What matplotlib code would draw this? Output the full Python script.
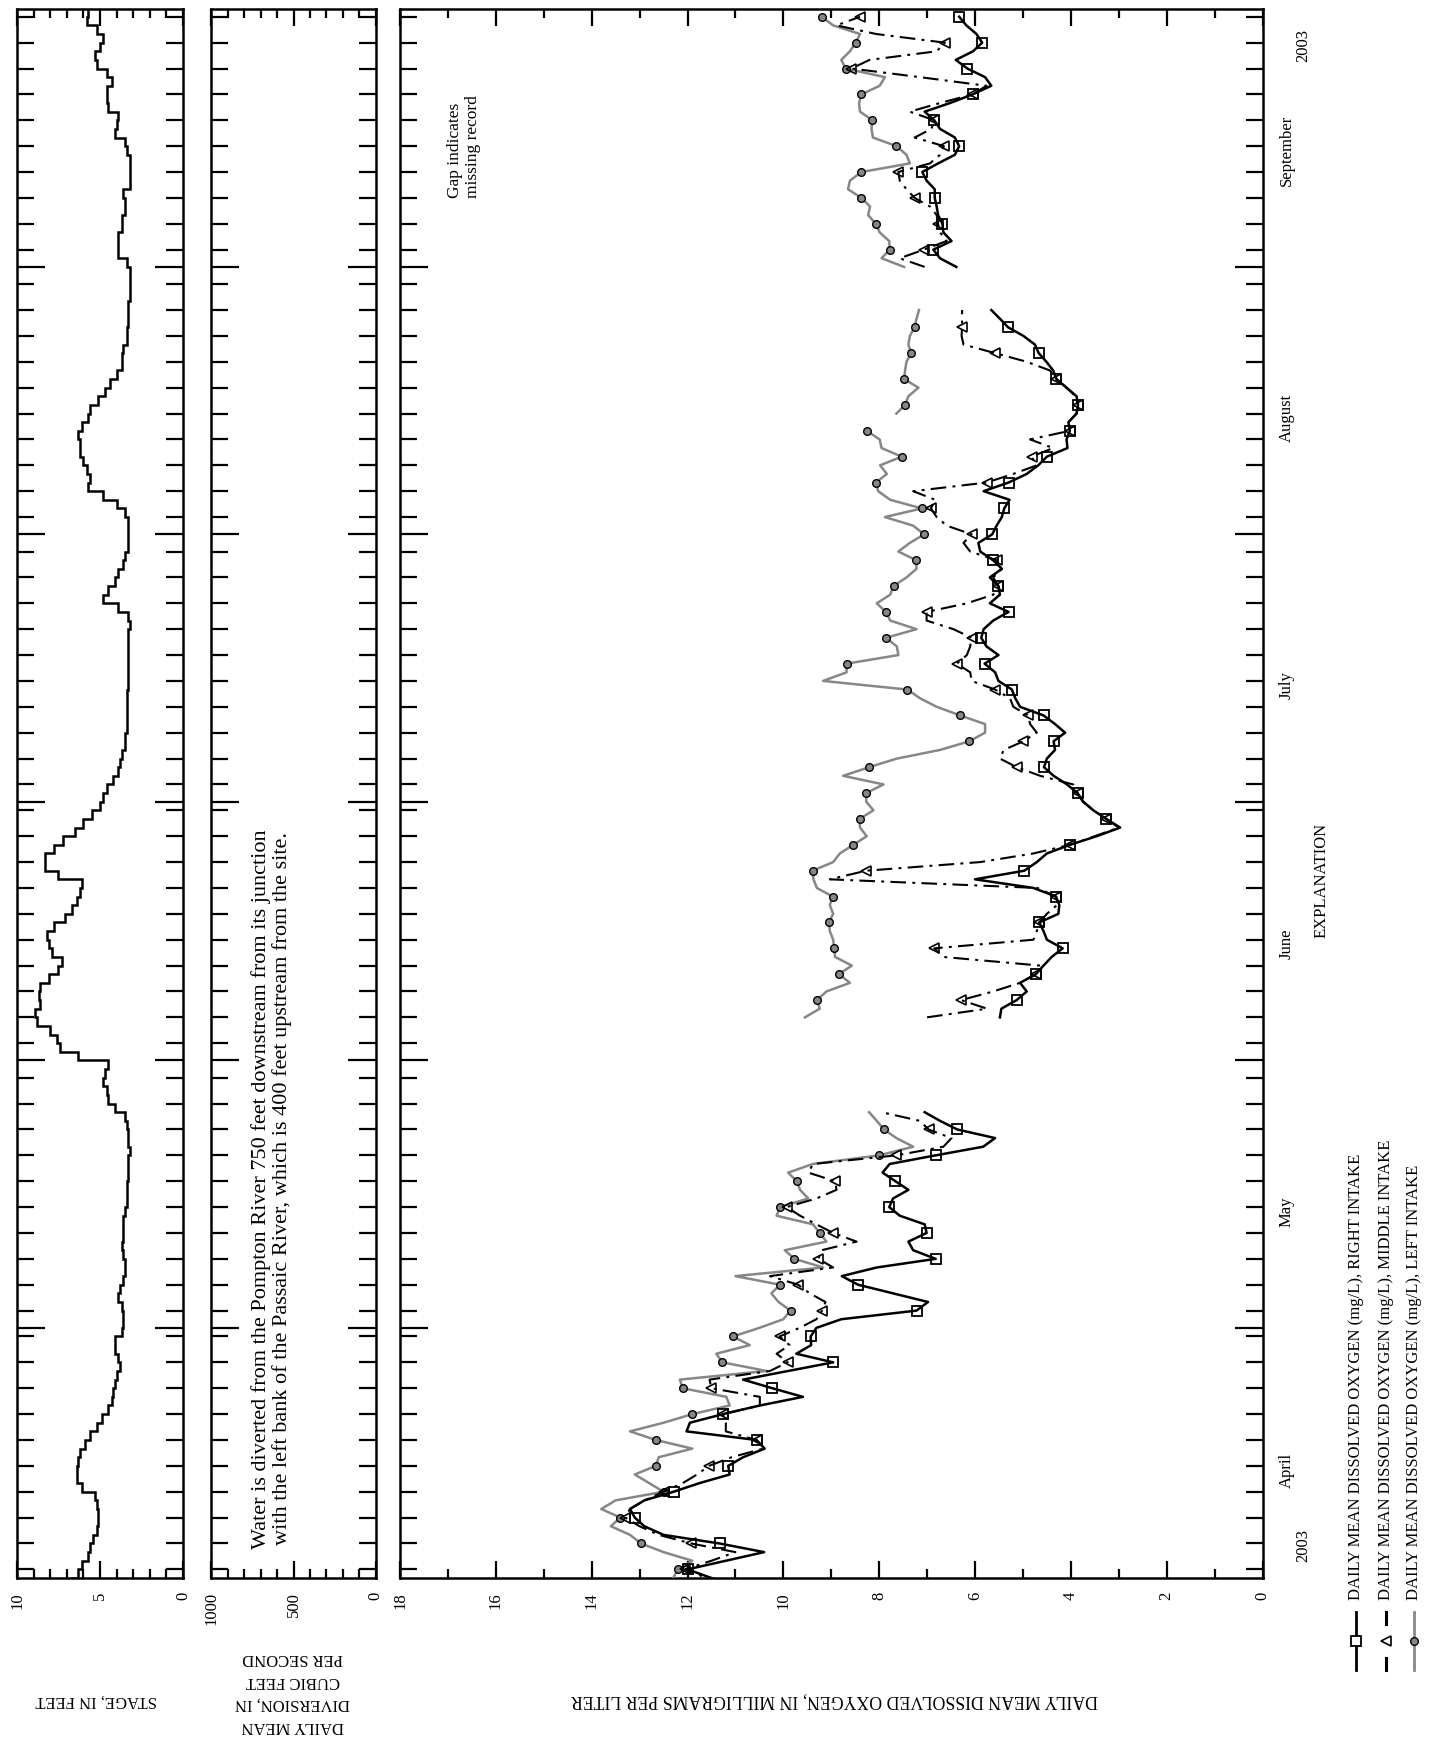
import numpy as np
import matplotlib
matplotlib.use("Agg")
import matplotlib.pyplot as plt
from matplotlib.lines import Line2D
from matplotlib.transforms import blended_transform_factory

plt.rcParams['font.family'] = ['Liberation Serif', 'DejaVu Serif']

nan = np.nan

# ---------------- data (day index = days since 2003-04-01) ----------------
stage_ft = [
    6.7, 6.3, 6.1, 5.7, 5.6, 5.4, 5.2, 5.1, 5.1, 5.2,
    5.3, 6.1, 6.4, 6.4, 6.3, 6.2, 5.9, 5.6, 5.2, 4.9,
    4.5, 4.3, 4.2, 4.1, 4.0, 3.8, 3.9, 4.1, 4.1, 3.7,
    3.6, 3.6, 3.7, 3.9, 3.8, 3.6, 3.5, 3.5, 3.6, 3.7,
    3.6, 3.6, 3.6, 3.5, 3.4, 3.4, 3.4, 3.3, 3.3, 3.3,
    3.2, 3.3, 3.3, 3.4, 3.5, 4.1, 4.5, 4.6, 4.8, 4.7,
    4.5, 6.3, 7.4, 7.6, 8.0, 8.8, 8.9, 8.6, 8.7, 8.6,
    8.1, 7.5, 7.3, 7.9, 8.1, 8.2, 7.8, 7.1, 6.7, 6.4,
    6.2, 6.1, 7.5, 8.3, 8.3, 7.8, 7.2, 6.5, 6.0, 5.5,
    5.0, 4.8, 4.6, 4.2, 3.9, 3.8, 3.7, 3.5, 3.5, 3.4,
    3.4, 3.4, 3.4, 3.4, 3.3, 3.3, 3.3, 3.3, 3.3, 3.3,
    3.3, 3.2, 3.3, 3.9, 4.8, 4.5, 4.1, 3.9, 3.6, 3.5,
    3.3, 3.3, 3.3, 3.3, 3.5, 4.0, 4.8, 5.7, 5.6, 5.8,
    6.0, 6.2, 6.2, 6.3, 6.1, 5.7, 5.6, 5.1, 4.7, 4.4,
    4.0, 3.7, 3.7, 3.6, 3.4, 3.4, 3.3, 3.3, 3.3, 3.2,
    3.2, 3.2, 3.2, 3.4, 3.9, 3.9, 3.9, 3.7, 3.7, 3.5,
    3.5, 3.6, 3.2, 3.2, 3.2, 3.2, 3.4, 3.5, 4.1, 4.0,
    3.9, 4.5, 4.6, 4.6, 4.3, 4.6, 5.2, 5.3, 5.0, 4.8,
    5.2, 5.8, 5.7,
]

# Dissolved oxygen, right intake (days 0-55, 66-148, 153-182)
do_right_apr_may = [
    11.0, 11.5, 12.0, 11.2, 10.4, 11.33, 12.5, 12.9, 13.1, 13.2,
    12.9, 12.29, 11.75, 11.12, 11.15, 10.84, 10.39, 10.56, 12.02, 11.95,
    11.26, 10.49, 9.59, 10.23, 10.84, 9.9, 8.96, 9.73, 9.42, 9.43,
    9.31, 8.79, 7.22, 6.98, 7.71, 8.44, 8.78, 8.05, 6.82, 7.29,
    7.39, 7.01, 7.05, 7.57, 7.79, 7.71, 7.39, 7.66, 7.93, 7.78,
    6.82, 5.83, 5.58, 6.37, 6.73, 7.05]
do_right_jun_aug = [
    5.48, 5.45, 5.13, 4.92, 5.06, 4.73, 4.57, 4.4, 4.17, 4.5,
    4.57, 4.66, 4.26, 4.24, 4.31, 4.78, 6.0, 4.97, 4.71, 4.5,
    4.02, 3.46, 2.97, 3.26, 3.53, 3.74, 3.86, 4.08, 4.36, 4.56,
    4.5, 4.33, 4.36, 4.12, 4.33, 4.57, 5.06, 5.16, 5.23, 5.51,
    5.58, 5.8, 5.51, 5.76, 5.87, 5.82, 5.62, 5.3, 5.69, 5.48,
    5.51, 5.69, 5.44, 5.62, 5.89, 5.93, 5.64, 5.55, 5.44, 5.39,
    5.28, 5.82, 5.3, 4.92, 4.68, 4.5, 4.07, 4.09, 4.02, 4.05,
    3.88, 3.85, 3.88, 4.09, 4.3, 4.37, 4.51, 4.67, 4.75, 4.99,
    5.31, 5.48, 5.66]
do_right_sep = [
    6.39, 6.73, 6.87, 6.49, 6.66, 6.68, 6.77, 6.8, 6.84, 6.84,
    7.01, 7.1, 6.77, 6.42, 6.33, 6.42, 6.73, 6.85, 7.05, 6.52,
    6.05, 5.66, 5.79, 6.16, 6.4, 6.04, 5.85, 5.97, 6.18, 6.33]

# Dissolved oxygen, middle intake
do_middle_apr_may = [
    11.3, 11.6, 12.06, 11.5, 11.0, 11.92, 12.6, 13.0, 13.3, 13.2,
    12.9, 12.5, 12.1, 11.8, 11.55, 11.08, 10.42, 10.56, 11.2, 11.2,
    11.26, 10.49, 10.49, 11.5, 11.54, 10.28, 9.91, 10.14, 9.87, 10.08,
    9.66, 9.31, 9.19, 9.12, 9.45, 9.69, 10.28, 8.96, 9.27, 9.2,
    8.47, 8.96, 9.31, 9.65, 9.93, 9.31, 8.89, 8.92, 9.48, 9.38,
    7.64, 6.66, 6.49, 6.97, 7.15, 7.95]
do_middle_jun_aug = [
    7.0, 5.75, 6.29, 5.62, 5.06, 4.73, 4.64, 6.66, 6.85, 4.78,
    4.71, 4.66, 4.5, 4.29, 4.31, 4.7, 9.03, 8.27, 5.89, 4.78,
    4.02, 3.5, 3.0, 3.26, 3.53, 3.75, 3.86, 3.95, 4.64, 5.13,
    5.48, 5.4, 4.99, 4.71, 4.85, 4.89, 5.2, 5.27, 5.58, 6.07,
    6.1, 6.38, 6.17, 6.1, 6.07, 6.45, 7.01, 7.01, 6.17, 5.62,
    5.51, 5.62, 5.44, 5.55, 6.1, 6.24, 6.07, 6.59, 6.8, 6.92,
    6.83, 7.29, 5.76, 5.2, 4.71, 4.82, 4.37, 4.85, 4.02, 4.05,
    3.88, 3.85, 3.9, 4.09, 4.3, 4.44, 4.92, 5.58, 6.24, 6.28,
    6.27, 6.27, 6.27]
do_middle_sep = [
    7.05, 7.57, 7.07, 6.59, 6.73, 6.77, 6.8, 6.94, 7.26, 7.43,
    7.57, 7.6, 6.94, 6.73, 6.65, 7.26, 6.91, 6.85, 7.36, 6.73,
    6.05, 5.76, 7.15, 8.58, 8.2, 6.8, 6.63, 8.06, 8.89, 8.4]

# Dissolved oxygen, left intake
do_left_apr_may = [
    12.3, 12.3, 12.2, 11.9, 12.5, 12.97, 13.2, 13.6, 13.4, 13.8,
    13.5, 12.5, 12.8, 13.1, 12.66, 12.6, 11.9, 12.66, 13.2, 12.5,
    11.9, 11.12, 11.19, 12.1, 12.16, 10.35, 11.27, 11.4, 10.7, 11.05,
    10.5, 10.0, 9.85, 10.1, 10.25, 10.07, 11.0, 9.17, 9.77, 9.97,
    9.1, 9.24, 9.38, 10.14, 10.07, 9.48, 9.65, 9.72, 9.9, 9.38,
    8.0, 7.29, 7.64, 7.9, 8.05, 8.21]
do_left_jun_aug = [
    9.55, 9.24, 9.3, 9.1, 8.61, 8.84, 8.57, 8.92, 8.94, 8.96,
    9.03, 9.05, 8.96, 9.03, 8.97, 9.3, 9.37, 9.39, 8.96, 8.82,
    8.54, 8.26, 8.4, 8.41, 8.12, 8.27, 8.27, 7.91, 8.75, 8.21,
    7.63, 6.73, 6.12, 5.79, 5.79, 6.31, 6.8, 7.15, 7.41, 9.17,
    8.68, 8.68, 7.6, 7.63, 7.86, 7.22, 7.77, 7.86, 8.05, 7.77,
    7.7, 7.43, 7.22, 7.23, 7.6, 7.36, 7.06, 7.29, 7.88, 7.11,
    7.77, 8.02, 8.07, 7.84, 7.98, 7.53, 7.95, 7.99, 8.26, nan,
    7.64, 7.46, 7.39, 7.18, 7.48, 7.46, 7.43, 7.33, 7.39, 7.36,
    7.26, 7.22, 7.17]
do_left_sep = [
    7.48, 7.95, 7.78, 7.79, 7.99, 8.07, 8.23, 8.19, 8.37, 8.65,
    8.61, 8.37, 7.36, 7.43, 7.64, 8.13, 8.16, 8.14, 8.4, 8.42,
    8.37, 7.99, 7.88, 8.7, 8.79, 8.61, 8.49, 8.4, 8.96, 9.2]

gap_late_may = [nan] * 10      # days 56-65 missing
gap_late_aug = [nan] * 4       # days 149-152 missing

month_names = ['April', 'May', 'June', 'July', 'August', 'September']
month_start = [0, 30, 61, 91, 122, 153]
month_len = [30, 31, 30, 31, 31, 30]
year_text = '2003'

legend_labels = ['DAILY MEAN DISSOLVED OXYGEN (mg/L), RIGHT INTAKE',
                 'DAILY MEAN DISSOLVED OXYGEN (mg/L), MIDDLE INTAKE',
                 'DAILY MEAN DISSOLVED OXYGEN (mg/L), LEFT INTAKE']

do_right = np.array(do_right_apr_may + gap_late_may + do_right_jun_aug + gap_late_aug + do_right_sep)
do_middle = np.array(do_middle_apr_may + gap_late_may + do_middle_jun_aug + gap_late_aug + do_middle_sep)
do_left = np.array(do_left_apr_may + gap_late_may + do_left_jun_aug + gap_late_aug + do_left_sep)
days = np.arange(len(do_right))

# ---------------- figure ----------------
W, H = 1437, 1742
fig = plt.figure(figsize=(W / 100, H / 100), dpi=100)
fig.patch.set_facecolor('white')


def fax(x0, x1, y0, y1):
    return fig.add_axes([x0 / W, 1 - y1 / H, (x1 - x0) / W, (y1 - y0) / H])


TOP, BOT = 9, 1578
ax1 = fax(17, 183, TOP, BOT)
ax2 = fax(211.5, 375.5, TOP, BOT)
ax3 = fax(400, 1262.5, TOP, BOT)

GRAY = '#878787'
FS = 12
MID_DASH = (0, (7.5, 3.0, 1.4, 3.0))

# stage step line
ax1.stairs(stage_ft, np.arange(len(stage_ft) + 1), orientation='horizontal',
           baseline=None, color='black', lw=1.8)

# dissolved oxygen
mk = slice(2, None, 3)
ax3.plot(do_left, days, color=GRAY, lw=1.8, marker='o', ms=5.5, mfc=GRAY,
         mec='black', mew=1.0, markevery=mk, zorder=3)
ax3.plot(do_middle, days, color='black', lw=1.5, ls=MID_DASH,
         marker='<', ms=7.5, mfc='none', mec='black', mew=1.2, markevery=mk, zorder=4)
ax3.plot(do_right, days, color='black', lw=1.8, marker='s', ms=7, mfc='none',
         mec='black', mew=1.3, markevery=mk, zorder=5)

# axes limits and ticks
major_days = month_start[1:]
minor_days = []
for s, L in zip(month_start, month_len):
    for d in range(3, L + 1, 3):
        minor_days.append(s + d - 1)

panels = ((ax1, 10, [0, 5, 10], np.arange(0, 11, 1), ['0', '5', '10']),
          (ax2, 1000, [0, 500, 1000], np.arange(0, 1001, 100), ['0', '500', '1000']),
          (ax3, 18, list(range(0, 19, 2)), np.arange(1, 19, 2),
           [str(v) for v in range(0, 19, 2)]))
for ax, xmax, xmaj, xmin, xlabs in panels:
    ax.set_xlim(xmax, 0)
    ax.set_ylim(1, 182.9)
    ax.set_xticks(xmaj)
    ax.set_xticklabels(xlabs)
    ax.set_xticks(xmin, minor=True)
    ax.set_yticks(major_days)
    ax.set_yticks(minor_days, minor=True)
    ax.tick_params(axis='both', which='both', direction='in', top=True, bottom=True,
                   left=True, right=True, labelleft=False, labelbottom=True,
                   width=1.6, colors='black')
    ax.tick_params(axis='x', which='major', length=12, pad=10, labelsize=FS)
    ax.tick_params(axis='x', which='minor', length=6.5)
    ax.tick_params(axis='y', which='major', length=20)
    ax.tick_params(axis='y', which='minor', length=12)
    for lab in ax.get_xticklabels():
        lab.set_rotation(90)
        lab.set_va('top')
        lab.set_ha('center')
    for sp in ax.spines.values():
        sp.set_linewidth(1.8)

# axis titles (upside down)
fig.text(96 / W, 1 - 1700 / H, 'STAGE, IN FEET', rotation=180, ha='center',
         va='center', fontsize=FS)
fig.text(293 / W, 1 - 1692 / H, 'DAILY MEAN\nDIVERSION, IN\nCUBIC FEET\nPER SECOND',
         rotation=180, ha='center', va='center', multialignment='center',
         fontsize=FS, linespacing=1.55)
fig.text(834 / W, 1 - 1700 / H,
         'DAILY MEAN DISSOLVED OXYGEN, IN MILLIGRAMS PER LITER',
         rotation=180, ha='center', va='center', fontsize=12.8)

# month labels
trans = blended_transform_factory(ax3.transAxes, ax3.transData)
for name, s in zip(month_names, month_start):
    ax3.text(1.0284, s + 13.5, name, rotation=90, ha='center', va='center',
             transform=trans, fontsize=FS, clip_on=False)
ax3.text(1.047, 4.8, year_text, rotation=90, ha='center', va='center',
         transform=trans, fontsize=FS, clip_on=False)
ax3.text(1.047, 178.7, year_text, rotation=90, ha='center', va='center',
         transform=trans, fontsize=FS, clip_on=False)

# panel notes
ax2.text(0.366, 0.248,
         'Water is diverted from the Pompton River 750 feet downstream from its junction\n'
         'with the left bank of the Passaic River, which is 400 feet upstream from the site.',
         rotation=90, ha='center', va='center', multialignment='center',
         transform=ax2.transAxes, fontsize=16, linespacing=1.12)
ax3.text(0.074, 167.0, 'Gap indicates\nmissing record', rotation=90, ha='center',
         va='center', multialignment='left', transform=trans, fontsize=12.5)

# explanation (legend)
fig.text(1322 / W, 1 - 880 / H, 'EXPLANATION', rotation=90, ha='center',
         va='center', fontsize=FS)
leg_x = [1356, 1386, 1414]
y_a, y_b, y_m = 1612, 1670, 1641
# right intake
fig.add_artist(Line2D([leg_x[0] / W] * 2, [1 - y_a / H, 1 - y_b / H], color='black', lw=2.0))
fig.add_artist(Line2D([leg_x[0] / W], [1 - y_m / H], marker='s', ms=7, mfc='white',
                      mec='black', mew=1.3, ls='none'))
# middle intake
fig.add_artist(Line2D([leg_x[1] / W] * 2, [1 - y_a / H, 1 - (y_a + 12) / H], color='black', lw=2.2))
fig.add_artist(Line2D([leg_x[1] / W] * 2, [1 - (y_b - 12) / H, 1 - y_b / H], color='black', lw=2.2))
fig.add_artist(Line2D([leg_x[1] / W], [1 - y_m / H], marker='<', ms=7.5, mfc='white',
                      mec='black', mew=1.2, ls='none'))
# left intake
fig.add_artist(Line2D([leg_x[2] / W] * 2, [1 - y_a / H, 1 - y_b / H], color=GRAY, lw=2.0))
fig.add_artist(Line2D([leg_x[2] / W], [1 - y_m / H], marker='o', ms=5.5, mfc=GRAY,
                      mec='black', mew=1.0, ls='none'))
for x, lab in zip(leg_x, legend_labels):
    fig.text(x / W, 1 - 1600 / H, lab, rotation=90, rotation_mode='anchor',
             ha='left', va='center', fontsize=FS)

fig.savefig('out.png', dpi=100, facecolor='white')
